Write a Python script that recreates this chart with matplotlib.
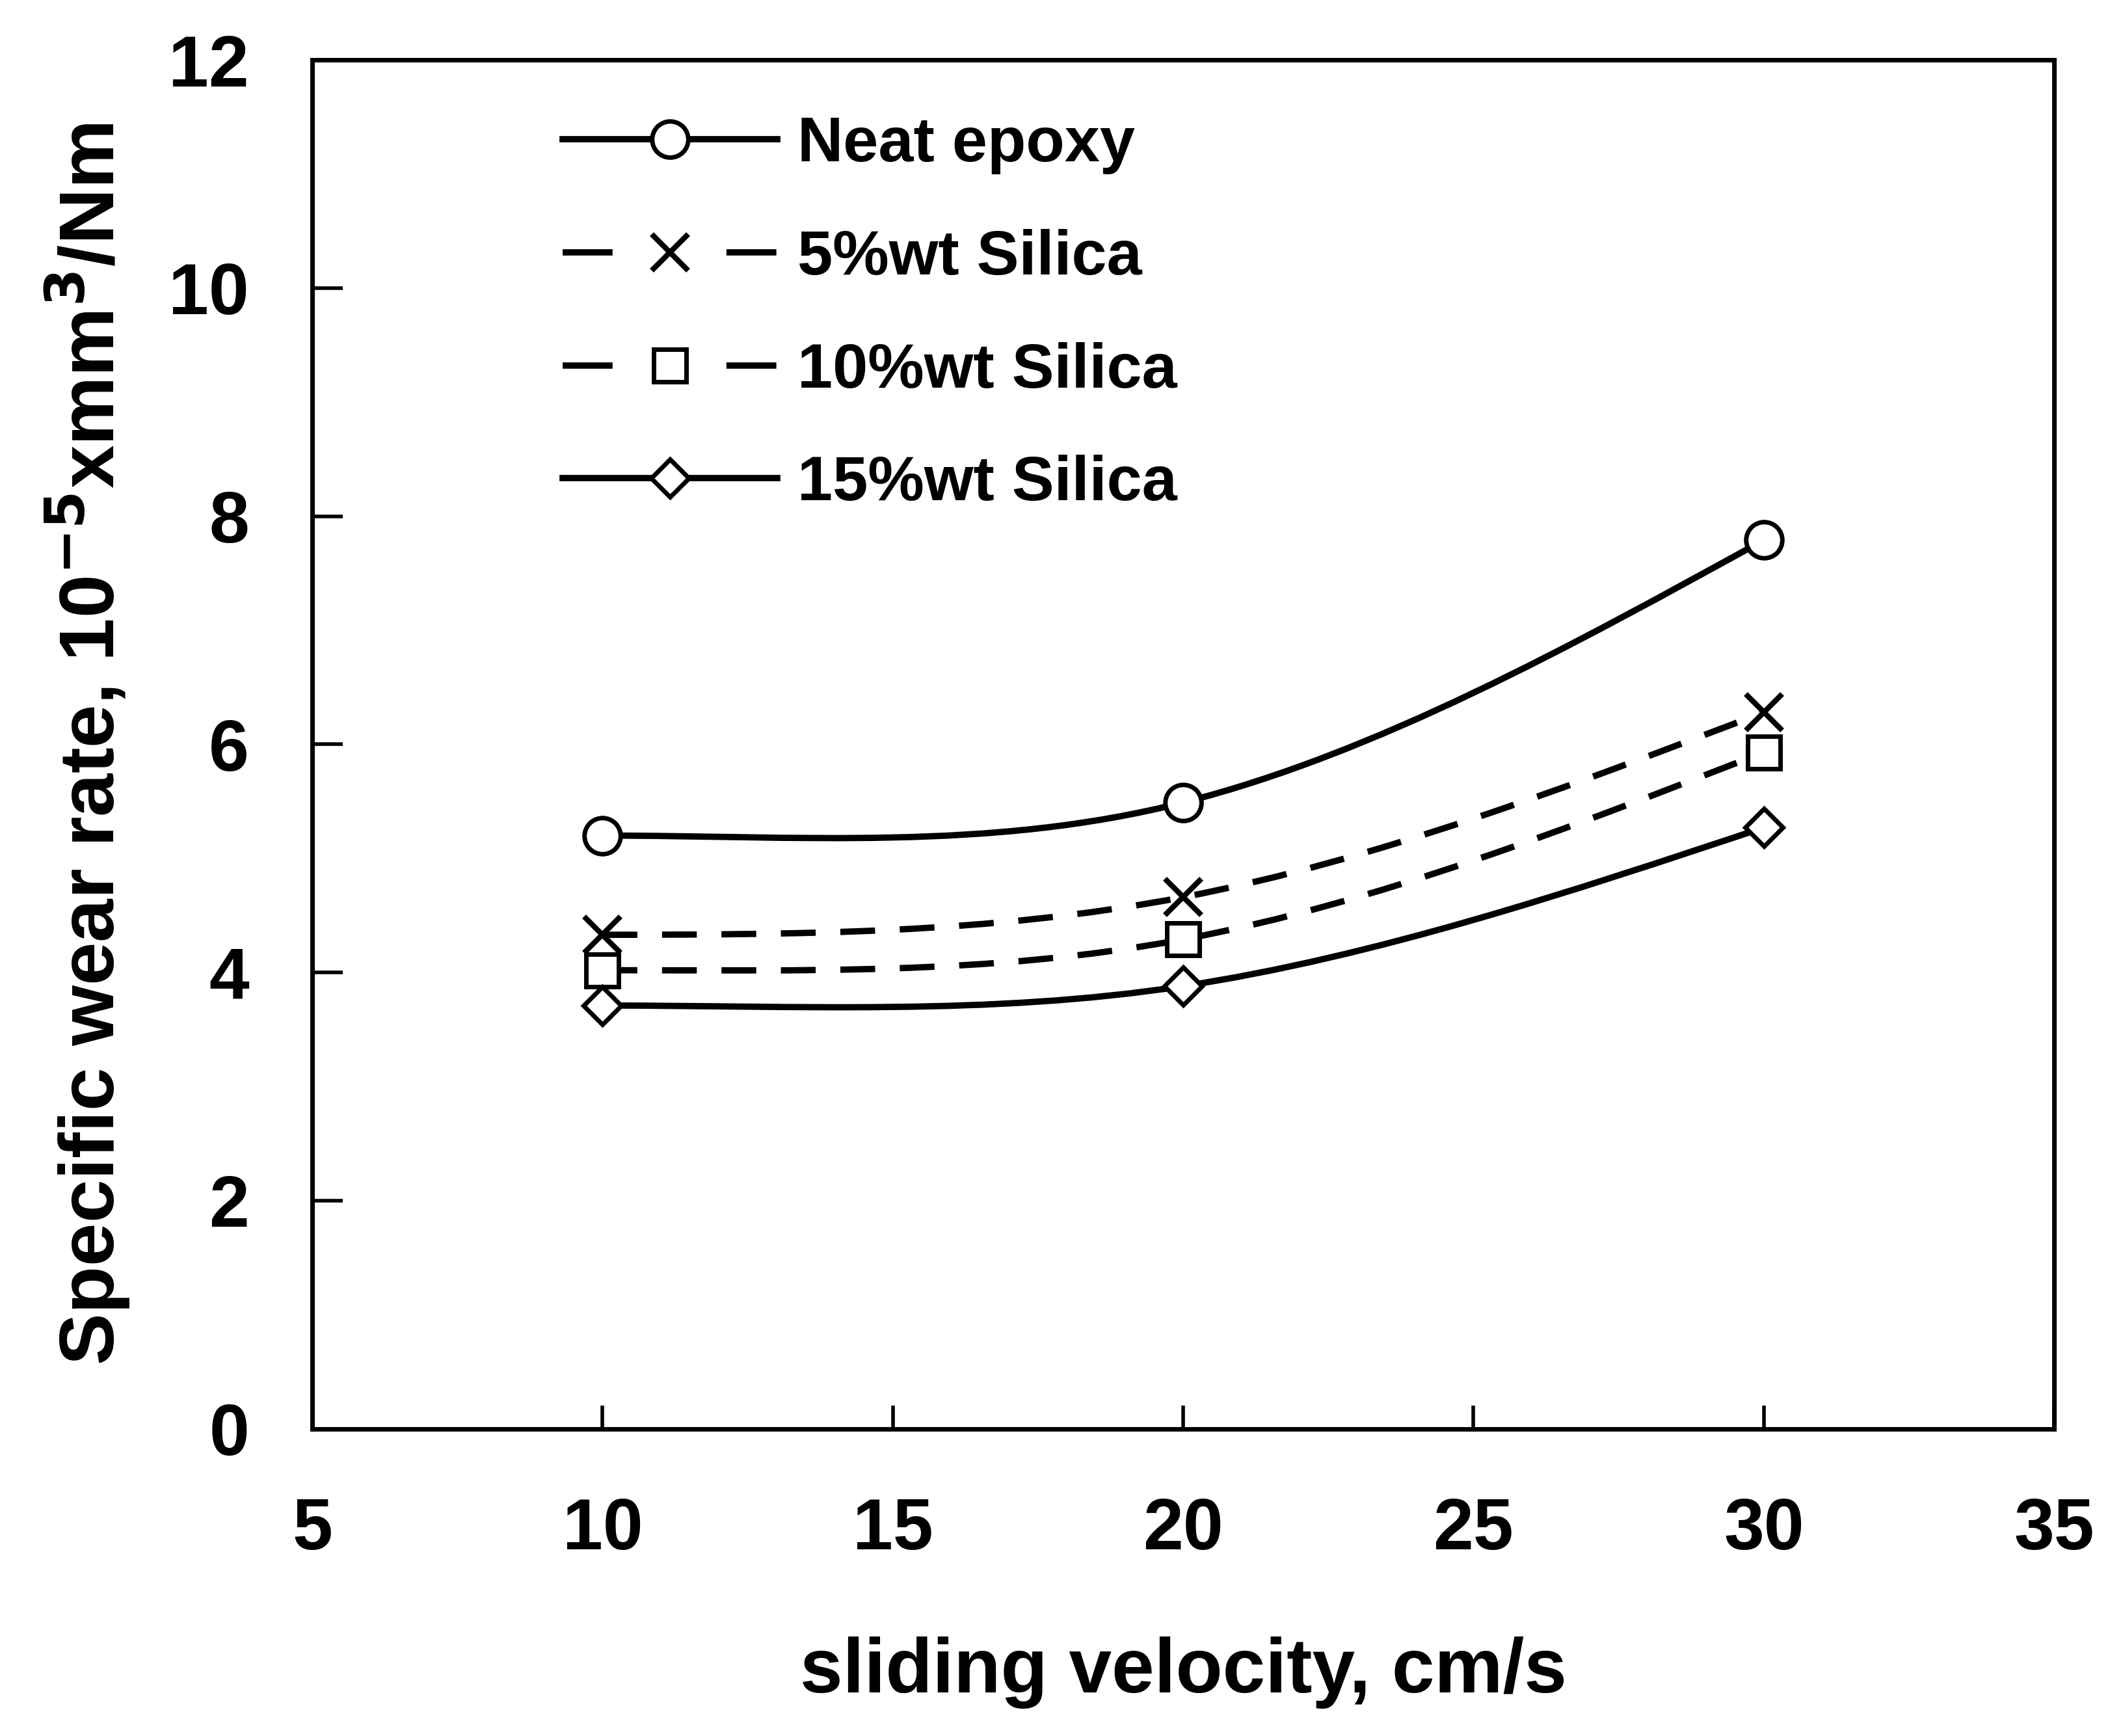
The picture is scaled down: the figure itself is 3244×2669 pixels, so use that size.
import numpy as np
import matplotlib
matplotlib.use("Agg")
import matplotlib.pyplot as plt
from matplotlib.path import Path
from matplotlib.patches import PathPatch
from matplotlib.lines import Line2D

# data
velocity = [10, 20, 30]
neat_epoxy = [5.2, 5.49, 7.79]
silica_5 = [4.33, 4.66, 6.28]
silica_10 = [4.02, 4.29, 5.93]
silica_15 = [3.71, 3.88, 5.27]

labels = ["Neat epoxy", "5%wt Silica", "10%wt Silica", "15%wt Silica"]
markers = ["o", "x", "s", "D"]
styles = ["-", "--", "--", "-"]

plt.rcParams["font.family"] = ["Liberation Sans", "DejaVu Sans"]
plt.rcParams["font.weight"] = "bold"
plt.rcParams["mathtext.default"] = "bf"

LW = 7
MS = {"o": 40, "x": 40, "s": 36, "D": 30}


def smooth_path(x, y):
    # cubic Hermite through the points, drawn as Bezier segments
    x = np.asarray(x, float)
    y = np.asarray(y, float)
    n = len(x)
    sec = np.diff(y) / np.diff(x)
    m = np.zeros(n)
    for i in range(1, n - 1):
        m[i] = (y[i + 1] - y[i - 1]) / (x[i + 1] - x[i - 1])
    m[0] = max((3 * sec[0] - m[1]) / 2, 0)
    m[-1] = (3 * sec[-1] - m[-2]) / 2
    verts = [(x[0], y[0])]
    codes = [Path.MOVETO]
    for i in range(n - 1):
        h = x[i + 1] - x[i]
        verts += [(x[i] + h / 3, y[i] + m[i] * h / 3),
                  (x[i + 1] - h / 3, y[i + 1] - m[i + 1] * h / 3),
                  (x[i + 1], y[i + 1])]
        codes += [Path.CURVE4] * 3
    return Path(verts, codes)


fig = plt.figure(figsize=(32.44, 26.69), dpi=100)
ax = fig.add_axes([0.148, 0.177, 0.8255, 0.7885])

handles = []
for ys, lab, mk, ls in zip([neat_epoxy, silica_5, silica_10, silica_15], labels, markers, styles):
    patch = PathPatch(smooth_path(velocity, ys), facecolor="none", edgecolor="black",
                      lw=LW, linestyle="-" if ls == "-" else (0, (5.5, 3.9)), zorder=2)
    ax.add_patch(patch)
    if mk == "x":
        ax.plot(velocity, ys, linestyle="none", marker="x", ms=MS[mk], mew=6, color="black", zorder=3)
    else:
        ax.plot(velocity, ys, linestyle="none", marker=mk, ms=MS[mk], mew=5,
                mfc="white", mec="black", zorder=3)
    h = Line2D([], [], color="black", lw=LW,
               linestyle="-" if ls == "-" else (0, (7.9, 18)),
               marker=mk, ms=MS[mk], mew=6 if mk == "x" else 5,
               mfc="white", mec="black")
    handles.append(h)

ax.set_xlim(5, 35)
ax.set_ylim(0, 12)
ax.set_xticks([5, 10, 15, 20, 25, 30, 35])
ax.set_yticks([0, 2, 4, 6, 8, 10, 12])

for s in ax.spines.values():
    s.set_linewidth(5)

ax.tick_params(axis="y", direction="in", length=34, width=4, pad=70, labelsize=80)
ax.tick_params(axis="x", direction="in", length=26, width=4, pad=75, labelsize=80)
for t in ax.get_xticklabels() + ax.get_yticklabels():
    t.set_fontweight("bold")

ax.set_xlabel("sliding velocity, cm/s", fontsize=85, fontweight="bold", labelpad=80)
ax.set_ylabel("Specific wear rate, 10$^{-5}$xmm$^{3}$/Nm", fontsize=86,
              fontweight="bold", labelpad=40)

leg = ax.legend(handles, labels, loc="upper left", bbox_to_anchor=(0.1436, 0.959),
                frameon=False, handlelength=3.4, handletextpad=0.32,
                labelspacing=0.86, borderpad=0, borderaxespad=0,
                prop={"weight": "bold", "size": 70})

fig.savefig("out.png", dpi=100)
